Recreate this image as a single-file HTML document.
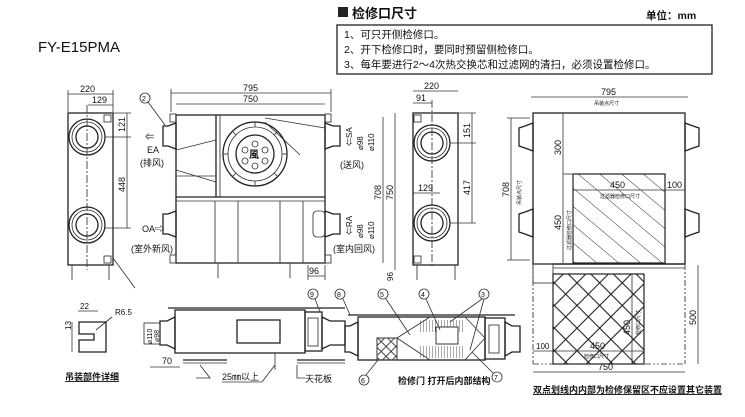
<!DOCTYPE html>
<html><head><meta charset="utf-8"><style>
body{margin:0;background:#fff;}
svg{display:block;font-family:"Liberation Sans","Noto Sans CJK SC",sans-serif;}
.l{stroke:#222;stroke-width:1.3;fill:none}
.t{stroke:#333;stroke-width:0.85;fill:none}
.d{stroke:#333;stroke-width:0.8;fill:none}
text{fill:#111}
</style></head><body>
<svg width="745" height="417" viewBox="0 0 745 417" xmlns="http://www.w3.org/2000/svg">
<defs>
<pattern id="hatch" width="14" height="14" patternUnits="userSpaceOnUse" patternTransform="rotate(-50)"><line x1="0" y1="0" x2="0" y2="14" stroke="#333" stroke-width="1"/></pattern>
<pattern id="xh" width="16" height="16" patternUnits="userSpaceOnUse" patternTransform="rotate(45)"><rect width="16" height="16" fill="none" stroke="#222" stroke-width="1.1"/></pattern>
<pattern id="xs" width="7" height="7" patternUnits="userSpaceOnUse" patternTransform="rotate(45)"><rect width="7" height="7" fill="none" stroke="#333" stroke-width="0.9"/></pattern>
<pattern id="grid" width="3" height="3" patternUnits="userSpaceOnUse"><line x1="0" y1="0" x2="0" y2="3" stroke="#444" stroke-width="0.9"/></pattern>
</defs>

<!-- header -->
<text x="38" y="52" font-size="15">FY-E15PMA</text>
<rect x="338" y="7" width="10" height="10" fill="#222"/>
<text x="352" y="18" font-size="13" font-weight="bold">检修口尺寸</text>
<text x="646" y="19" font-size="10.5" font-weight="bold">单位：mm</text>
<rect x="337" y="25" width="375" height="49" class="l"/>
<text x="344" y="38" font-size="10.5">1、可只开侧检修口。</text>
<text x="344" y="53" font-size="10.5">2、开下检修口时，要同时预留侧检修口。</text>
<text x="344" y="68" font-size="10.5">3、每年要进行2～4次热交换芯和过滤网的清扫，必须设置检修口。</text>

<!-- left side view -->
<rect x="68" y="113" width="45" height="152" class="l"/>
<line x1="87" y1="105" x2="87" y2="270" class="t" stroke-dasharray="8 2 2 2"/>
<circle cx="87" cy="137" r="18" class="l"/><circle cx="87" cy="137" r="15" class="t"/><circle cx="87" cy="137" r="11" class="l"/>
<circle cx="87" cy="225" r="18" class="l"/><circle cx="87" cy="225" r="15" class="t"/><circle cx="87" cy="225" r="11" class="l"/>
<rect x="104" y="115" width="7" height="7" class="t"/><rect x="104" y="256" width="7" height="7" class="t"/>
<line x1="72" y1="265" x2="72" y2="280" class="t"/><line x1="109" y1="265" x2="109" y2="280" class="t"/>
<line x1="68" y1="94" x2="113" y2="94" class="d"/><text x="80" y="92" font-size="9">220</text>
<line x1="88" y1="105" x2="113" y2="105" class="d"/><text x="92" y="103" font-size="9">129</text>
<line x1="68" y1="90" x2="68" y2="112" class="d"/><line x1="113" y1="90" x2="113" y2="112" class="d"/>
<line x1="127" y1="113" x2="127" y2="228" class="d"/>
<line x1="113" y1="113" x2="131" y2="113" class="d"/><line x1="105" y1="137" x2="131" y2="137" class="d"/><line x1="105" y1="228" x2="131" y2="228" class="d"/>
<text transform="translate(125,132) rotate(-90)" font-size="9">121</text>
<text transform="translate(125,192) rotate(-90)" font-size="9">448</text>
<line x1="113" y1="258" x2="135" y2="288" class="t"/>

<!-- main front view -->
<line x1="171" y1="93" x2="331" y2="93" class="d"/><text x="243" y="91" font-size="9">795</text>
<line x1="176" y1="104" x2="325" y2="104" class="d"/><text x="243" y="102" font-size="9">750</text>
<line x1="171" y1="89" x2="171" y2="112" class="d"/><line x1="331" y1="89" x2="331" y2="112" class="d"/>
<rect x="176" y="115" width="149" height="148" class="l"/>
<rect x="170" y="114" width="6" height="8" class="t"/><rect x="325" y="114" width="6" height="8" class="t"/>
<rect x="170" y="255" width="6" height="8" class="t"/><rect x="325" y="255" width="6" height="8" class="t"/>
<line x1="176" y1="197" x2="325" y2="197" class="l"/><line x1="176" y1="201" x2="325" y2="201" class="t"/>
<line x1="216" y1="115" x2="216" y2="197" class="l"/><line x1="220" y1="115" x2="220" y2="197" class="t"/>
<line x1="176" y1="150" x2="216" y2="140" class="t"/><line x1="176" y1="170" x2="216" y2="182" class="t"/>
<line x1="176" y1="176" x2="216" y2="176" class="t"/>
<line x1="265" y1="118" x2="325" y2="128" class="t"/><line x1="265" y1="122" x2="300" y2="155" class="t"/>
<circle cx="255" cy="154" r="32" class="l"/><circle cx="255" cy="154" r="27" class="t"/><circle cx="255" cy="154" r="19" class="l"/>
<g class="t">
<line x1="255" y1="122" x2="255" y2="127"/><line x1="255" y1="181" x2="255" y2="186"/>
<line x1="223" y1="154" x2="228" y2="154"/><line x1="282" y1="154" x2="287" y2="154"/>
<line x1="232" y1="131" x2="236" y2="135"/><line x1="274" y1="173" x2="278" y2="177"/>
<line x1="278" y1="131" x2="274" y2="135"/><line x1="236" y1="173" x2="232" y2="177"/>
</g>
<circle cx="255" cy="144" r="3" class="t"/><circle cx="245" cy="150" r="3" class="t"/><circle cx="265" cy="150" r="3" class="t"/><circle cx="245" cy="161" r="3" class="t"/><circle cx="265" cy="161" r="3" class="t"/><circle cx="255" cy="166" r="3" class="t"/>
<text x="249" y="158" font-size="10" font-weight="bold">風</text>
<line x1="215" y1="201" x2="215" y2="263" class="t"/><line x1="238" y1="201" x2="238" y2="263" class="t"/><line x1="280" y1="201" x2="280" y2="263" class="t"/><line x1="303" y1="201" x2="303" y2="263" class="t"/>
<path d="M176,123 L168,126 L163,126 L163,146 L168,146 L176,149 Z" class="l"/>
<path d="M176,211 L168,214 L163,214 L163,234 L168,234 L176,237 Z" class="l"/>
<path d="M325,123 L333,126 L340,126 L340,146 L333,146 L325,149 Z" class="l"/>
<path d="M325,211 L333,214 L340,214 L340,234 L333,234 L325,237 Z" class="l"/>
<rect x="313" y="211" width="12" height="26" rx="4" class="t"/>
<text x="145" y="140" font-size="9">⇐</text><text x="147" y="153" font-size="9">EA</text>
<text x="140" y="166" font-size="9">(排风)</text>
<text x="142" y="232" font-size="9">OA⇨</text>
<text x="131" y="252" font-size="9">(室外新风)</text>
<text x="340" y="168" font-size="9">(送风)</text>
<text x="333" y="252" font-size="9">(室内回风)</text>
<text transform="translate(352,146) rotate(-90)" font-size="8">⇐SA</text>
<text transform="translate(363,150) rotate(-90)" font-size="8">⌀98</text>
<text transform="translate(374,151) rotate(-90)" font-size="8">⌀110</text>
<text transform="translate(352,235) rotate(-90)" font-size="8">⇐RA</text>
<text transform="translate(363,238) rotate(-90)" font-size="8">⌀98</text>
<text transform="translate(374,239) rotate(-90)" font-size="8">⌀110</text>
<circle cx="145" cy="98" r="5" class="t"/><text x="142" y="101" font-size="7">2</text>
<line x1="148" y1="102" x2="165" y2="125" class="t"/>
<line x1="308" y1="265" x2="308" y2="280" class="d"/><line x1="325" y1="265" x2="325" y2="280" class="d"/>
<line x1="308" y1="276" x2="325" y2="276" class="d"/><text x="309" y="274" font-size="9">96</text>
<line x1="383" y1="117" x2="383" y2="263" class="d"/><line x1="395" y1="113" x2="395" y2="270" class="d"/>
<text transform="translate(381,200) rotate(-90)" font-size="9">708</text>
<text transform="translate(393,200) rotate(-90)" font-size="9">750</text>
<text transform="translate(393,281) rotate(-90)" font-size="8">96</text>
<line x1="218" y1="263" x2="218" y2="278" class="t"/><line x1="290" y1="263" x2="290" y2="278" class="t"/>

<!-- side view 2 -->
<line x1="413" y1="91" x2="458" y2="91" class="d"/><text x="424" y="89" font-size="9">220</text>
<line x1="413" y1="103" x2="432" y2="103" class="d"/><text x="416" y="101" font-size="9">91</text>
<rect x="413" y="113" width="45" height="152" class="l"/>
<line x1="432" y1="100" x2="432" y2="268" class="t" stroke-dasharray="8 2 2 2"/>
<circle cx="432" cy="143" r="18" class="l"/><circle cx="432" cy="143" r="15" class="t"/><circle cx="432" cy="143" r="11" class="l"/>
<circle cx="432" cy="223" r="18" class="l"/><circle cx="432" cy="223" r="15" class="t"/><circle cx="432" cy="223" r="11" class="l"/>
<rect x="414" y="115" width="7" height="7" class="t"/><rect x="414" y="256" width="7" height="7" class="t"/>
<line x1="413" y1="193" x2="440" y2="193" class="d"/><text x="418" y="191" font-size="9">129</text>
<line x1="472" y1="113" x2="472" y2="223" class="d"/>
<line x1="458" y1="113" x2="476" y2="113" class="d"/><line x1="450" y1="143" x2="476" y2="143" class="d"/><line x1="450" y1="223" x2="476" y2="223" class="d"/>
<text transform="translate(470,138) rotate(-90)" font-size="9">151</text>
<text transform="translate(470,195) rotate(-90)" font-size="9">417</text>
<line x1="417" y1="265" x2="417" y2="280" class="t"/><line x1="455" y1="265" x2="455" y2="280" class="t"/>

<!-- right plan view -->
<line x1="531" y1="97" x2="688" y2="97" class="d"/><text x="601" y="95" font-size="9">795</text>
<text x="594" y="105" font-size="5">吊装点尺寸</text>
<rect x="533" y="113" width="152" height="151" class="l"/>
<path d="M533,123 L525,126 L519,128 L519,146 L525,148 L533,151 Z" class="l"/>
<path d="M533,209 L525,212 L519,214 L519,232 L525,234 L533,237 Z" class="l"/>
<path d="M685,123 L693,126 L699,128 L699,146 L693,148 L685,151 Z" class="l"/>
<path d="M685,209 L693,212 L699,214 L699,232 L693,234 L685,237 Z" class="l"/>
<rect x="573" y="174" width="92" height="89" fill="url(#hatch)" stroke="#222" stroke-width="1.2"/>
<line x1="511" y1="118" x2="511" y2="260" class="d"/>
<line x1="507" y1="118" x2="530" y2="118" class="d"/><line x1="507" y1="260" x2="530" y2="260" class="d"/>
<text transform="translate(509,197) rotate(-90)" font-size="9">708</text>
<text transform="translate(521,205) rotate(-90)" font-size="5">吊装点尺寸</text>
<line x1="563" y1="113" x2="563" y2="263" class="d"/>
<text transform="translate(561,155) rotate(-90)" font-size="9">300</text>
<text transform="translate(561,230) rotate(-90)" font-size="9">450</text>
<text transform="translate(571,250) rotate(-90)" font-size="5">过滤器检修口尺寸</text>
<line x1="563" y1="174" x2="573" y2="174" class="d"/>
<line x1="573" y1="190" x2="685" y2="190" class="d"/>
<text x="610" y="188" font-size="9">450</text><text x="667" y="188" font-size="9">100</text>
<text x="600" y="198" font-size="5">过滤器检修口尺寸</text>

<!-- lower plan -->
<line x1="533" y1="264" x2="533" y2="364" class="t" stroke-dasharray="6 2 2 2 2 2"/>
<line x1="685" y1="264" x2="685" y2="364" class="t" stroke-dasharray="6 2 2 2 2 2"/>
<line x1="533" y1="364" x2="685" y2="364" class="t" stroke-dasharray="6 2 2 2 2 2"/>
<rect x="533" y="264" width="20" height="19" class="t"/>
<line x1="553" y1="264" x2="685" y2="264" class="l"/><line x1="553" y1="268" x2="685" y2="268" class="t"/>
<rect x="553" y="274" width="91" height="90" fill="url(#xh)" stroke="#222" stroke-width="1.2"/>
<line x1="533" y1="351" x2="644" y2="351" class="d"/>
<text x="536" y="349" font-size="8">100</text><text x="590" y="349" font-size="9">450</text>
<text x="584" y="358" font-size="5">检修口尺寸</text>
<line x1="632" y1="274" x2="632" y2="364" class="d"/>
<text transform="translate(630,335) rotate(-90)" font-size="9">450</text>
<text transform="translate(640,335) rotate(-90)" font-size="5">检修口尺寸</text>
<line x1="698" y1="265" x2="698" y2="364" class="d"/>
<text transform="translate(696,325) rotate(-90)" font-size="9">500</text>
<line x1="533" y1="372" x2="685" y2="372" class="d"/><text x="598" y="370" font-size="9">750</text>
<text x="533" y="393" font-size="9" font-weight="bold" text-decoration="underline">双点划线内内部为检修保留区不应设置其它装置</text>

<!-- hanger detail -->
<line x1="78" y1="311" x2="98" y2="311" class="d"/><text x="80" y="309" font-size="8">22</text>
<text x="115" y="315" font-size="8">R6.5</text>
<line x1="112" y1="317" x2="96" y2="330" class="t"/>
<text transform="translate(71,330) rotate(-90)" font-size="8">13</text>
<path d="M79,322 L106,322 L106,352 L79,352 L79,340 L94,340 L94,334 L79,334 Z" class="l"/>
<line x1="72" y1="322" x2="72" y2="352" class="d"/>
<text x="65" y="380" font-size="9" font-weight="bold" text-decoration="underline">吊装部件详细</text>

<!-- long unit bottom-left -->
<rect x="175" y="310" width="130" height="43" class="l"/>
<line x1="168" y1="308" x2="345" y2="308" class="l"/>
<rect x="237" y="320" width="43" height="23" class="l"/>
<path d="M175,317 L167,321 L160,321 L160,345 L167,345 L175,349 Z" class="l"/>
<rect x="144" y="323" width="16" height="21" class="t"/>
<text transform="translate(152,344) rotate(-90)" font-size="7">⌀110</text>
<text transform="translate(159,342) rotate(-90)" font-size="7">⌀98</text>
<rect x="305" y="312" width="17" height="39" class="l"/>
<rect x="308" y="318" width="10" height="28" class="t"/>
<path d="M322,317 L330,321 L345,321 L345,345 L330,345 L322,349 Z" class="l"/>
<circle cx="313" cy="294" r="5" class="t"/><text x="310" y="297" font-size="7">9</text>
<line x1="315" y1="299" x2="320" y2="312" class="t"/>
<line x1="183" y1="360" x2="227" y2="360" class="l"/><line x1="183" y1="363" x2="227" y2="363" class="t"/>
<line x1="297" y1="360" x2="345" y2="360" class="l"/><line x1="297" y1="363" x2="345" y2="363" class="t"/>
<line x1="150" y1="367" x2="180" y2="367" class="d"/><text x="162" y="364" font-size="9">70</text>
<line x1="275" y1="353" x2="275" y2="370" class="d"/>
<text x="222" y="380" font-size="9">25㎜以上</text>
<line x1="222" y1="382" x2="262" y2="382" class="t"/><line x1="262" y1="382" x2="275" y2="365" class="t"/>
<text x="305" y="382" font-size="9">天花板</text>
<path d="M297,365 L297,378 L305,378" class="t"/>
<path d="M200,365 L210,378 L196,378" class="t"/>

<!-- internal structure -->
<line x1="348" y1="315" x2="515" y2="315" class="l"/>
<rect x="358" y="317" width="127" height="43" class="l"/>
<path d="M358,322 L350,326 L345,326 L345,352 L350,352 L358,356 Z" class="l"/>
<rect x="485" y="318" width="20" height="41" class="l"/>
<rect x="489" y="325" width="10" height="28" class="t"/>
<path d="M505,322 L512,326 L520,326 L520,352 L512,352 L505,356 Z" class="l"/>
<rect x="377" y="338" width="20" height="22" fill="url(#xs)" stroke="#333"/>
<line x1="397" y1="338" x2="430" y2="317" class="t"/><line x1="397" y1="338" x2="430" y2="360" class="t"/>
<line x1="465" y1="317" x2="485" y2="338" class="t"/><line x1="465" y1="360" x2="485" y2="338" class="t"/>
<rect x="420" y="320" width="45" height="12" fill="url(#grid)"/>
<rect x="420" y="346" width="45" height="12" fill="url(#grid)"/>
<rect x="436" y="327" width="22" height="17" fill="#fff" stroke="#333"/>
<circle cx="340" cy="294" r="5" class="t"/><text x="337" y="297" font-size="7">8</text>
<circle cx="383" cy="294" r="5" class="t"/><text x="380" y="297" font-size="7">5</text>
<circle cx="424" cy="294" r="5" class="t"/><text x="421" y="297" font-size="7">4</text>
<circle cx="484" cy="294" r="5" class="t"/><text x="481" y="297" font-size="7">3</text>
<circle cx="364" cy="380" r="5" class="t"/><text x="361" y="383" font-size="7">6</text>
<circle cx="497" cy="377" r="5" class="t"/><text x="494" y="380" font-size="7">7</text>
<line x1="343" y1="299" x2="350" y2="315" class="t"/>
<line x1="386" y1="299" x2="410" y2="335" class="t"/>
<line x1="426" y1="299" x2="440" y2="330" class="t"/>
<line x1="482" y1="299" x2="450" y2="322" class="t"/><line x1="484" y1="299" x2="470" y2="350" class="t"/>
<line x1="366" y1="375" x2="378" y2="360" class="t"/>
<line x1="493" y1="373" x2="472" y2="352" class="t"/>
<text x="398" y="384" font-size="9" font-weight="bold">检修门 打开后内部结构</text>
</svg>
</body></html>
